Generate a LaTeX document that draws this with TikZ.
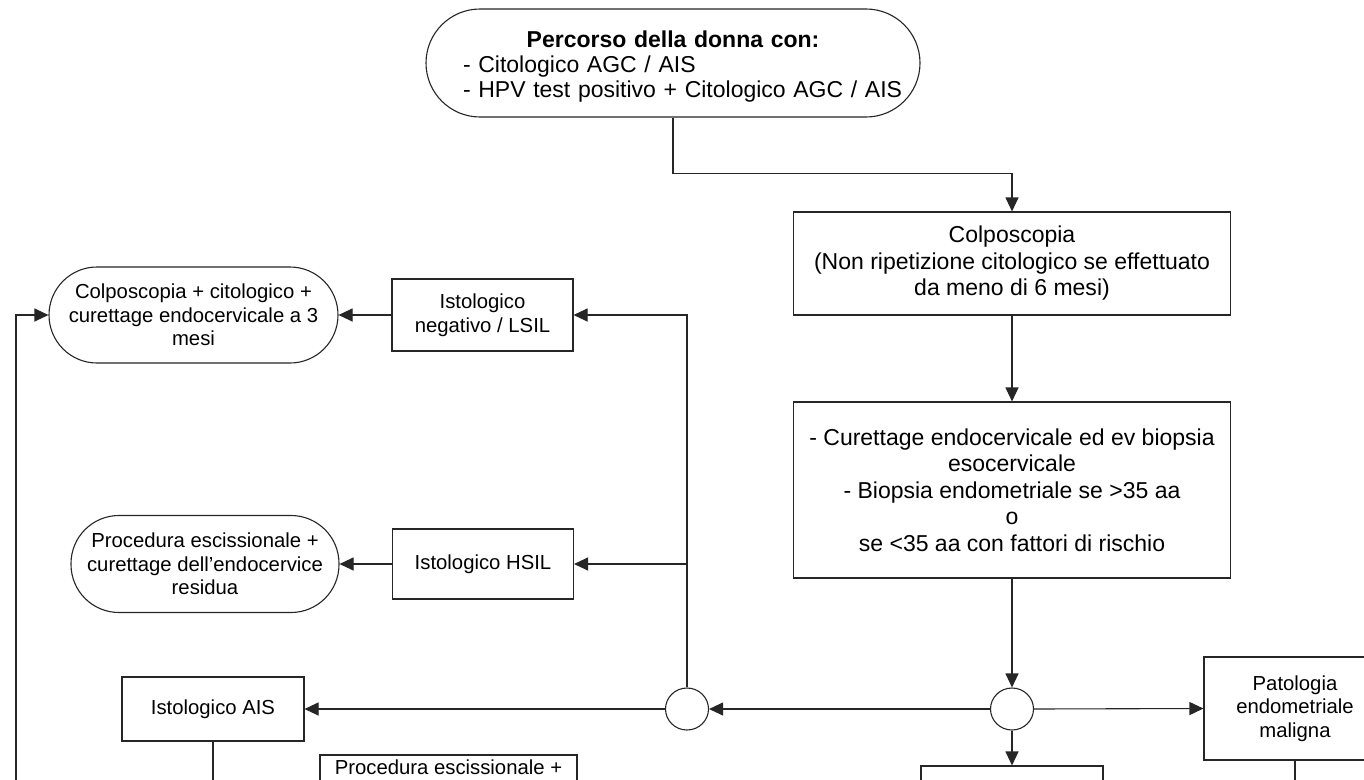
\documentclass[tikz,border=0pt]{standalone}
\usepackage{fontspec}
\setmainfont{Liberation Sans}
\usetikzlibrary{arrows.meta,shapes.geometric}
\begin{document}
\begin{tikzpicture}[x=1pt,y=-1pt,
  conn/.style={draw=black!85, line width=1.1pt},
  arr/.style={conn, -{Triangle[length=14pt,width=13pt]}},
  bigfont/.style={font=\fontsize{23}{26.5}\selectfont},
  smallfont/.style={font=\fontsize{20.3}{23.5}\selectfont},
  rbox/.style={draw=black!85, line width=1.1pt, rectangle, inner sep=0pt, align=center},
  stad/.style={rbox, rounded corners=#1},
  ring/.style={draw=black!85, line width=1.1pt, ellipse, inner sep=0pt, minimum width=43pt, minimum height=42pt},
]
\useasboundingbox (0,0) rectangle (1364,779);
\begin{scope}
\clip (0,0) rectangle (1364,779);
\fill[white] (0,0) rectangle (1364,779);

% top terminator
\node[stad=54pt, minimum width=494pt, minimum height=108pt] (T) at (673,63) {};
\node[font=\fontsize{23}{25}\selectfont, inner sep=0pt, text width=420pt, align=left] (Tt) at (673,67)
  {\makebox[420pt][c]{\bfseries Percorso della donna con:}\\\mbox{- Citologico AGC / AIS}\\\mbox{- HPV test positivo + Citologico AGC / AIS}};

% right column
\node[rbox, bigfont, minimum width=437pt, minimum height=103pt] (colpo) at (1012,263.5)
  {Colposcopia\\(Non ripetizione citologico se effettuato\\da meno di 6 mesi)};
\node[rbox, bigfont, minimum width=437pt, minimum height=176pt] (cur) at (1012,490)
  {- Curettage endocervicale ed ev biopsia\\esocervicale\\- Biopsia endometriale se >35 aa\\o\\se <35 aa con fattori di rischio};

% junctions
\node[ring] (c2) at (1012,709) {};
\node[ring] (c1) at (687,709) {};

% left column
\node[rbox, smallfont, minimum width=181pt, minimum height=72pt] (lsil) at (482.5,315)
  {Istologico\\negativo / LSIL};
\node[rbox, smallfont, minimum width=181pt, minimum height=70pt] (hsil) at (483,564)
  {Istologico HSIL};
\node[rbox, smallfont, minimum width=182pt, minimum height=64pt] (ais) at (213,709)
  {Istologico AIS};
\node[stad=48pt, smallfont, minimum width=289pt, minimum height=96pt] (A) at (193.5,315)
  {Colposcopia + citologico +\\curettage endocervicale a 3\\mesi};
\node[stad=48pt, smallfont, minimum width=268pt, minimum height=97pt] (B) at (205,564)
  {Procedura escissionale +\\curettage dell’endocervice\\residua};

% right outcome
\node[rbox, smallfont, minimum width=182pt, minimum height=103pt] (pat) at (1295,708.5)
  {Patologia\\endometriale\\maligna};

% bottom boxes (cut by the frame)
\node[rbox, minimum width=257pt, minimum height=100pt] (pe) at (448.5,805) {};
\node[smallfont, anchor=base, inner sep=0pt] (pet) at (448.5,774) {Procedura escissionale +};
\node[rbox, minimum width=182pt, minimum height=100pt] (br) at (1012,816) {};

% connectors
\draw[arr] (T.south) -- ++(0,56) -| (colpo.north);
\draw[arr] (colpo.south) -- (cur.north);
\draw[arr] (cur.south) -- (c2.north);
\draw[arr] (c2.west) -- (c1.east);
\draw[arr] (c2.east) -- (pat.west);
\draw[arr] (c2.south) -- (br.north);
\draw[arr] (c1.north) |- (lsil.east);
\draw[arr] (c1.north) |- (hsil.east);
\draw[arr] (c1.west) -- (ais.east);
\draw[arr] (lsil.west) -- (A.east);
\draw[arr] (hsil.west) -- (B.east);
\coordinate (lb) at (16,800);
\draw[arr] (lb) |- (A.west);
\coordinate (aisb) at (213,800);
\draw[conn] (ais.south) -- (aisb);
\coordinate (patb) at (1295,800);
\draw[conn] (pat.south) -- (patb);
\end{scope}
\end{tikzpicture}
\end{document}
